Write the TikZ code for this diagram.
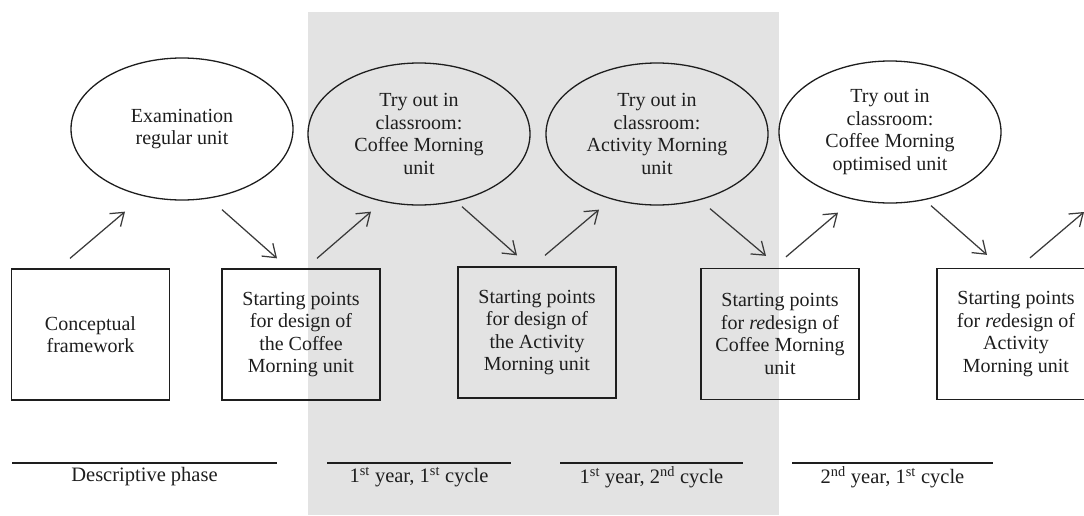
\documentclass[tikz,border=0pt]{standalone}
\usepackage{fontspec}
\setmainfont{Liberation Serif}
\usetikzlibrary{arrows.meta,shapes.geometric}
\definecolor{bandgray}{HTML}{E3E3E3}
\definecolor{ink}{HTML}{1E1E1E}
\definecolor{arrowink}{HTML}{3A3A3A}
\begin{document}
\begin{tikzpicture}[x=1pt,y=-1pt,
  font=\fontsize{20}{22.6}\selectfont,
  unitbox/.style={draw=ink, line width=1.3pt, minimum width=158pt, minimum height=131pt,
    inner sep=0pt, align=center, text=ink},
  phase/.style={draw=ink, ellipse, line width=1.3pt, minimum width=222pt, minimum height=142pt,
    inner sep=0pt, align=center, text=ink},
  flow/.style={-{Straight Barb[length=12pt,width=17pt]}, line width=1.25pt, draw=arrowink},
  rule/.style={draw=ink, line width=1.2pt},
  phaselabel/.style={text=ink, inner sep=0pt, font=\fontsize{20.5}{24}\selectfont}
]
\useasboundingbox (0,0) rectangle (1084,515);
\clip (0,0) rectangle (1084,515);
\fill[bandgray] (308,12) rectangle (779,515);

% ellipses
\node[phase] (e1) at (182,129) {Examination\\regular unit};
\node[phase] (e2) at (419,134) {Try out in\\classroom:\\Coffee Morning\\unit};
\node[phase] (e3) at (657,134) {Try out in\\classroom:\\Activity Morning\\unit};
\node[phase] (e4) at (890,132) {Try out in\\classroom:\\Coffee Morning\\optimised unit};

% boxes
\node[unitbox] (b1) at (90.5,334.5) {Conceptual\\framework};
\node[unitbox] (b2) at (301,334.5) {Starting points\\for design of\\the Coffee\\Morning unit};
\node[unitbox] (b3) at (537,332.5) {Starting points\\for design of\\the Activity\\Morning unit};
\node[unitbox] (b4) at (780,334) {Starting points\\for \textit{re}design of\\Coffee Morning\\unit};
\node[unitbox] (b5) at (1016,334) {Starting points\\for \textit{re}design of\\Activity\\Morning unit};

\coordinate (out) at (1084,212);

% arrows
\draw[flow] ([shift={(-20.5,-10)}]b1.north) -- ([shift={(-57,11)}]e1.south);
\draw[flow] ([shift={(40,9)}]e1.south) -- ([shift={(-24,-10)}]b2.north);
\draw[flow] ([shift={(16,-10)}]b2.north) -- ([shift={(-48,6)}]e2.south);
\draw[flow] ([shift={(43,1)}]e2.south) -- ([shift={(-20,-11)}]b3.north);
\draw[flow] ([shift={(8,-11)}]b3.north) -- ([shift={(-58,4)}]e3.south);
\draw[flow] ([shift={(53,3)}]e3.south) -- ([shift={(-14,-12)}]b4.north);
\draw[flow] ([shift={(6,-11)}]b4.north) -- ([shift={(-52,9)}]e4.south);
\draw[flow] ([shift={(41,2)}]e4.south) -- ([shift={(-29,-13)}]b5.north);
\draw[flow] ([shift={(14,-10)}]b5.north) -- (out);

% phase rules and labels
\draw[rule] (12,463) -- (277,463);
\node[phaselabel] (p1) at (144.5,477) {Descriptive phase};
\draw[rule] (327,463) -- (511,463);
\node[phaselabel] (p2) at (419,477) {1\textsuperscript{st} year, 1\textsuperscript{st} cycle};
\draw[rule] (560,463) -- (743,463);
\node[phaselabel] (p3) at (651.5,477) {1\textsuperscript{st} year, 2\textsuperscript{nd} cycle};
\draw[rule] (792,463) -- (993,463);
\node[phaselabel] (p4) at (892.5,477) {2\textsuperscript{nd} year, 1\textsuperscript{st} cycle};
\end{tikzpicture}
\end{document}
